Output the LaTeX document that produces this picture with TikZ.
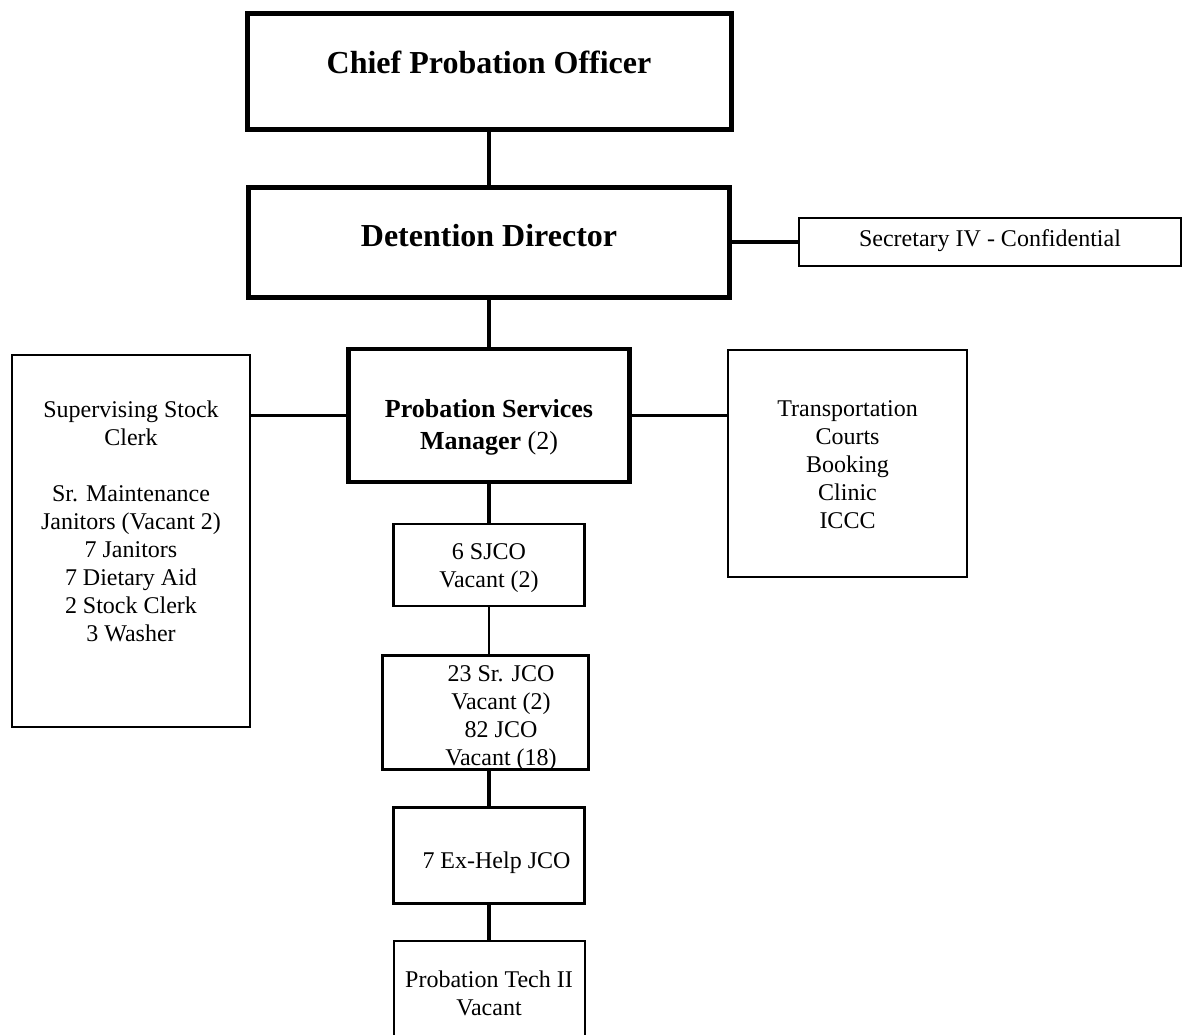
\documentclass[tikz,border=0pt]{standalone}
\usepackage{fontspec}
\setmainfont{Liberation Serif}
\usepackage{tikz}

\begin{document}
\begin{tikzpicture}[x=1pt, y=-1pt,
    boite/.style={draw, line width=2.5pt, inner sep=0pt, align=center,
        font=\fontsize{24}{28}\selectfont, text height=22pt},
    boitegras/.style={boite, line width=5pt},
    lien/.style={line width=4pt},
    lienmoyen/.style={line width=3.3pt},
    lienfin/.style={line width=1.8pt}]
    \clip (0,0) rectangle (1183,1034);

    % Direction
    \node[boitegras, minimum width=484pt, minimum height=116pt,
        font=\bfseries\fontsize{32}{38}\selectfont, text height=24pt, text depth=20pt]
        (chef) at (489,71) {Chief Probation Officer};
    \node[boitegras, minimum width=481pt, minimum height=110pt,
        font=\bfseries\fontsize{32}{38}\selectfont, text height=24pt, text depth=16pt]
        (directeur) at (489,242) {Detention Director};
    \node[boite, minimum width=382pt, minimum height=48pt, text depth=14pt]
        (secretaire) at (990,242) {Secretary IV - Confidential};

    % Gestionnaire et services
    \node[boitegras, line width=4.5pt, minimum width=281pt, minimum height=133pt,
        font=\fontsize{26}{32}\selectfont, text height=80pt, text depth=13pt]
        (gestion) at (489,415.5) {\textbf{Probation Services}\\ \textbf{Manager} (2)};
    \node[boite, minimum width=238pt, minimum height=372pt, text height=230pt, text depth=30pt]
        (stock) at (131,541) {Supervising Stock\\ Clerk\\[28pt] Sr. Maintenance\\
        Janitors (Vacant 2)\\ 7 Janitors\\ 7 Dietary Aid\\ 2 Stock Clerk\\ 3 Washer};
    \node[boite, minimum width=239pt, minimum height=227pt, text height=140pt, text depth=11pt]
        (services) at (847.5,463.5) {Transportation\\ Courts\\ Booking\\ Clinic\\ ICCC};

    % Personnel JCO
    \node[boite, minimum width=191pt, minimum height=82pt, text height=54pt, text depth=10pt]
        (sjco) at (489,565) {6 SJCO\\ Vacant (2)};
    \node[boite, line width=3pt, minimum width=206pt, minimum height=114pt,
        text height=109pt, text depth=3pt]
        (jco) at (485,712) {\hspace*{32pt}23 Sr. JCO\\ \hspace*{32pt}Vacant (2)\\
        \hspace*{32pt}82 JCO\\ \hspace*{32pt}Vacant (18)};
    \node[boite, line width=3pt, minimum width=191pt, minimum height=96pt,
        text height=30pt, text depth=4pt]
        (exhelp) at (489,855) {\hspace*{15pt}7 Ex-Help JCO};
    \node[boite, line width=2pt, minimum width=191pt, minimum height=129pt,
        text height=29pt, text depth=10pt]
        (tech) at (489,1005.5) {Probation Tech II\\ Vacant};

    % Liens
    \draw[lien] (chef) -- (directeur);
    \draw[lienmoyen] (directeur.east) -- (secretaire.west);
    \draw[lien] (directeur) -- (gestion);
    \draw[lienmoyen] (gestion.west) -- (gestion.west -| stock.east);
    \draw[lienmoyen] (gestion.east) -- (gestion.east -| services.west);
    \draw[lien] (gestion) -- (sjco);
    \draw[lienfin] (sjco.south) -- (sjco.south |- jco.north);
    \draw[lien] (exhelp.north |- jco.south) -- (exhelp.north);
    \draw[lien] (exhelp) -- (tech);
\end{tikzpicture}
\end{document}
